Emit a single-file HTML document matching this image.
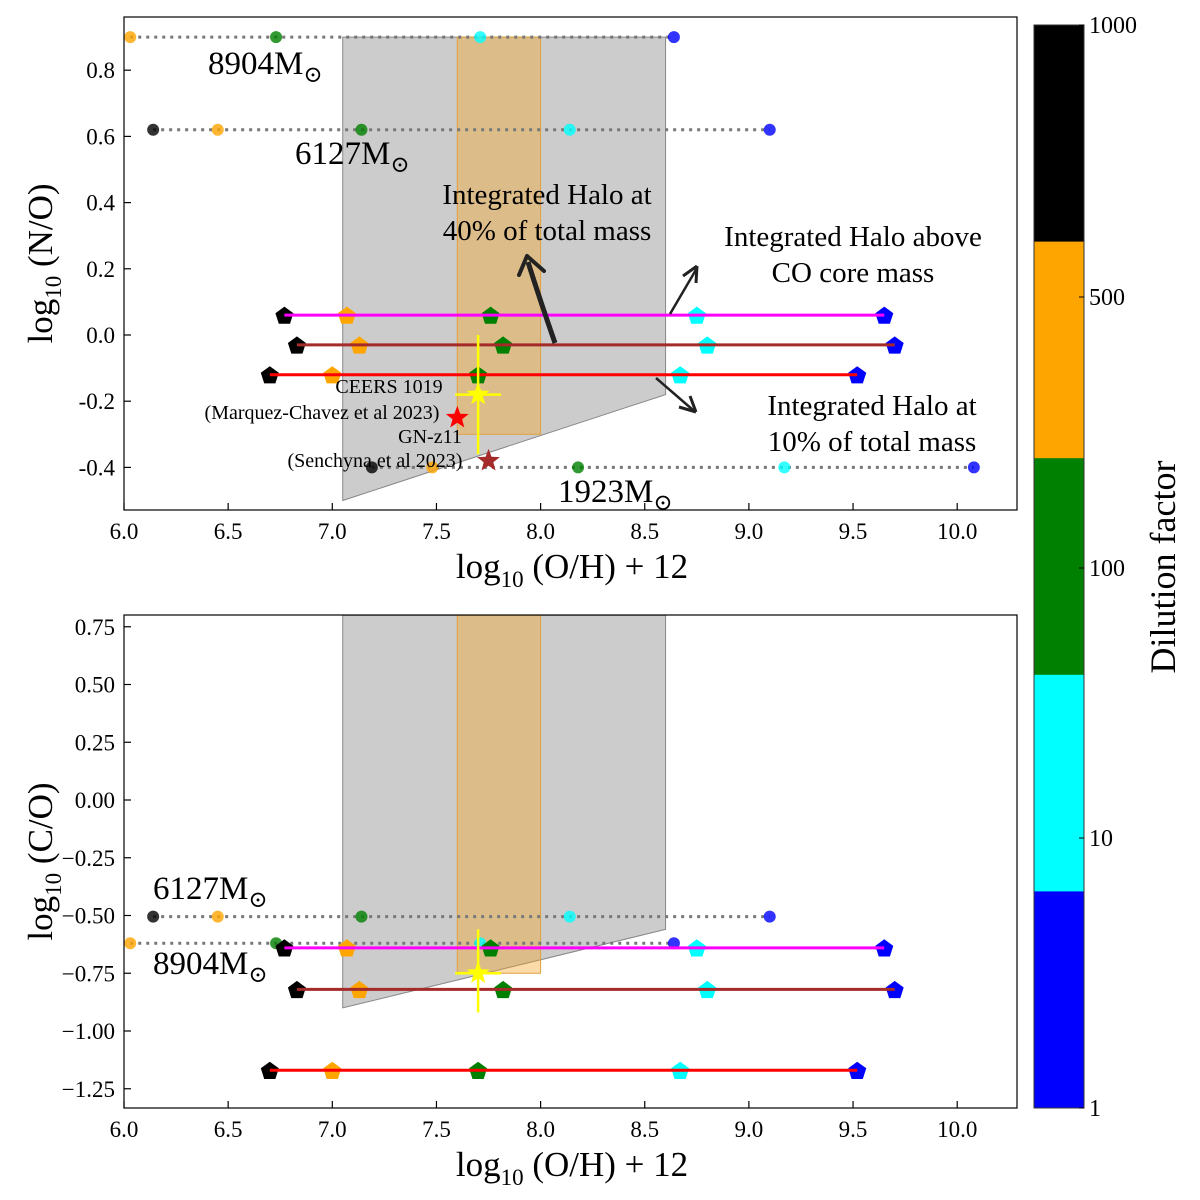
<!DOCTYPE html>
<html><head><meta charset="utf-8"><style>
html,body{margin:0;padding:0;background:#fff;}
svg{display:block;font-family:"Liberation Serif","DejaVu Serif",serif;}
</style></head><body>
<svg id="fig" width="1200" height="1200" viewBox="0 0 1200 1200" xmlns="http://www.w3.org/2000/svg"></svg>
<script>
// ---------- data ----------
const dilutionColors = ["black","orange","green","cyan","blue"];
const xTicks = [6.0,6.5,7.0,7.5,8.0,8.5,9.0,9.5,10.0];
const topYTicks = [0.8,0.6,0.4,0.2,0.0,-0.2,-0.4];
const botYTicks = [0.75,0.50,0.25,0.00,-0.25,-0.50,-0.75,-1.00,-1.25];
// circle (stellar mass) series: x per dilution [black, orange, green, cyan, blue]
const m8904X = [null,6.03,6.73,7.71,8.64];
const m6127X = [6.14,6.45,7.14,8.14,9.10];
const m1923X = [7.19,7.48,8.18,9.17,10.08];
// pentagon series x
const aboveCOX = [6.77,7.07,7.76,8.75,9.65];
const halo40X = [6.83,7.13,7.82,8.80,9.70];
const halo10X = [6.70,7.00,7.70,8.67,9.52];
// N/O values
const noM8904 = 0.90, noM6127 = 0.62, noM1923 = -0.40;
const noAboveCO = 0.06, noHalo40 = -0.03, noHalo10 = -0.12;
// C/O values
const coM6127 = -0.505, coM8904 = -0.62;
const coAboveCO = -0.64, coHalo40 = -0.82, coHalo10 = -1.17;
// observations
const ceersNO = [7.70,-0.18,0.11,0.18,0.18]; // x,y,xerr,yerrUp,yerrDown
const ceersCO = [7.70,-0.75,0.11,0.19,0.17];
const gnz11Red = [7.60,-0.25];
const gnz11Dark = [7.75,-0.38];
// shaded regions
const greyNO = [7.05,8.6,0.90,-0.50,-0.18];
const orangeNO = [7.6,8.0,0.90,-0.30];
const greyCO = [7.05,8.6,0.80,-0.90,-0.56];
const orangeCO = [7.6,8.0,0.80,-0.75];
const cbTicks = ["1000","500","100","10","1"];

// ---------- helpers ----------
const NS="http://www.w3.org/2000/svg";
const svg=document.getElementById('fig');
function mk(tag,attrs,parent){const e=document.createElementNS(NS,tag);for(const k in attrs)e.setAttribute(k,attrs[k]);(parent||svg).appendChild(e);return e;}
function txt(s,attrs,parent){const e=mk('text',attrs,parent);e.textContent=s;return e;}

const L=124,R=1017;
const xs=v=>124+(v-6)*208.3;
const P1={top:17,bot:510,y:v=>335-v*331};
const P2={top:615,bot:1108,y:v=>800-v*231};

function pentagon(cx,cy,r){let p=[];for(let i=0;i<5;i++){const a=-Math.PI/2+i*2*Math.PI/5;p.push((cx+r*Math.cos(a)).toFixed(1)+','+(cy+r*Math.sin(a)).toFixed(1));}return p.join(' ');}
function star(cx,cy,r){let p=[];for(let i=0;i<10;i++){const a=-Math.PI/2+i*Math.PI/5;const rr=i%2?r*0.42:r;p.push((cx+rr*Math.cos(a)).toFixed(1)+','+(cy+rr*Math.sin(a)).toFixed(1));}return p.join(' ');}

function panel(P,name){
  const g=mk('g',{});
  
  
  const cid='clip-'+name;
  const cp=mk('clipPath',{id:cid},g);mk('rect',{x:L,y:P.top,width:R-L,height:P.bot-P.top},cp);
  const inner=mk('g',{'clip-path':'url(#'+cid+')'},g);
  return {g,inner};
}

function shades(inner,P,grey,orange){
  const gp=mk('polygon',{points:`${xs(grey[0])},${P.y(grey[2])} ${xs(grey[1])},${P.y(grey[2])} ${xs(grey[1])},${P.y(grey[4])} ${xs(grey[0])},${P.y(grey[3])}`,fill:'#9a9a9a','fill-opacity':0.5,stroke:'#888','stroke-width':1},inner);
  
  
  const op=mk('rect',{x:xs(orange[0]),y:P.y(orange[2]),width:xs(orange[1])-xs(orange[0]),height:P.y(orange[3])-P.y(orange[2]),fill:'#f5a623','fill-opacity':0.4,stroke:'#e0a040','stroke-width':1},inner);
  
  
}

function dotted(inner,P,xsArr,yv,name){
  const vals=xsArr.filter(v=>v!==null);
  const ln=mk('line',{x1:xs(Math.min(...vals)),x2:xs(Math.max(...vals)),y1:P.y(yv),y2:P.y(yv),stroke:'#777','stroke-width':3,'stroke-dasharray':'3,5'},inner);
  
  
  xsArr.forEach((x,i)=>{if(x===null)return;
    const c=mk('circle',{cx:xs(x),cy:P.y(yv),r:6,fill:dilutionColors[i],'fill-opacity':0.8},inner);
    
    
  });
}
function pents(inner,P,xsArr,yv,color,name){
  xsArr.forEach((x,i)=>{
    const p=mk('polygon',{points:pentagon(xs(x),P.y(yv)+1,9.5),fill:dilutionColors[i]},inner);
    
    
  });
  const ln=mk('line',{x1:xs(xsArr[0]),x2:xs(xsArr[4]),y1:P.y(yv),y2:P.y(yv),stroke:color,'stroke-width':3},inner);
  
  
}
function errstar(inner,P,d,name){
  const cx=xs(d[0]),cy=P.y(d[1]);
  mk('line',{x1:xs(d[0]-d[2]),x2:xs(d[0]+d[2]),y1:cy,y2:cy,stroke:'yellow','stroke-width':2.5},inner);
  mk('line',{x1:cx,x2:cx,y1:P.y(d[1]+d[3]),y2:P.y(d[1]-d[4]),stroke:'yellow','stroke-width':2.5},inner);
  const s=mk('polygon',{points:star(cx,cy,12),fill:'yellow'},inner);
  
  
}
function axes(g,P,yTicks,yfmt,ylabel){
  mk('rect',{x:L,y:P.top,width:R-L,height:P.bot-P.top,fill:'none',stroke:'#000','stroke-width':1.2},g);
  xTicks.forEach(t=>{const x=xs(t);mk('line',{x1:x,x2:x,y1:P.bot,y2:P.bot-7,stroke:'#000','stroke-width':1.2},g);
    const tl=txt(t.toFixed(1),{x:x,y:P.bot+29,'font-size':23,'text-anchor':'middle'},g);
    
    });
  yTicks.forEach(t=>{const y=P.y(t);mk('line',{x1:L,x2:L+7,y1:y,y2:y,stroke:'#000','stroke-width':1.2},g);
    const tl=txt(yfmt(t),{x:L-9,y:y+8,'font-size':23,'text-anchor':'end'},g);
    
    });
  const xt=mk('text',{x:572,y:P.bot+68,'font-size':35,'text-anchor':'middle'},g);
  xt.innerHTML='log<tspan font-size="23" dy="9">10</tspan><tspan dy="-9"> (O/H) + 12</tspan>';
  
  
  const cy=(P.top+P.bot)/2;
  const yt=mk('text',{x:0,y:0,'font-size':35,'text-anchor':'middle',transform:`translate(52,${cy}) rotate(-90)`},g);
  yt.innerHTML='log<tspan font-size="23" dy="9">10</tspan><tspan dy="-9"> '+ylabel+'</tspan>';
  
  
}
function msun(g,label,x,y,name){
  const t=mk('text',{x:x,y:y,'font-size':33},g);
  t.innerHTML=label+'M<tspan font-size="23" dy="8">\u2299</tspan>';
  
  
}
function ftxt(g,s,x,y,size,name,anchor){
  const t=txt(s,{x:x,y:y,'font-size':size,'text-anchor':anchor||'middle'},g);
  
  
}

// ---------- top panel ----------
const A=panel(P1,'nitrogen-panel');
shades(A.inner,P1,greyNO,orangeNO);
dotted(A.inner,P1,m8904X,noM8904,'mass-8904');
dotted(A.inner,P1,m6127X,noM6127,'mass-6127');
dotted(A.inner,P1,m1923X,noM1923,'mass-1923');
pents(A.inner,P1,aboveCOX,noAboveCO,'magenta','above-co-core');
pents(A.inner,P1,halo40X,noHalo40,'#a52a2a','halo-40pct');
pents(A.inner,P1,halo10X,noHalo10,'red','halo-10pct');
errstar(A.inner,P1,ceersNO,'ceers-1019-star');
let s1=mk('polygon',{points:star(xs(gnz11Red[0]),P1.y(gnz11Red[1]),12),fill:'red'},A.inner);


let s2=mk('polygon',{points:star(xs(gnz11Dark[0]),P1.y(gnz11Dark[1]),12),fill:'#a52a2a'},A.inner);


axes(A.g,P1,topYTicks,t=>t.toFixed(1),'(N/O)');
msun(A.g,'8904',208,74,'label-8904');
msun(A.g,'6127',295,164,'label-6127');
msun(A.g,'1923',558,502,'label-1923');
ftxt(A.g,'CEERS 1019',389,393,20,'ceers-label');
ftxt(A.g,'(Marquez-Chavez et al 2023)',322,419,20,'ceers-ref');
ftxt(A.g,'GN-z11',430,443,20,'gnz11-label');
ftxt(A.g,'(Senchyna et al 2023)',375,467,20,'gnz11-ref');
ftxt(A.g,'Integrated Halo at',547,204,29,'annot-40-line1');
ftxt(A.g,'40% of total mass',547,240,29,'annot-40-line2');
ftxt(A.g,'Integrated Halo above',853,246,29,'annot-co-line1');
ftxt(A.g,'CO core mass',853,282,29,'annot-co-line2');
ftxt(A.g,'Integrated Halo at',872,415,29,'annot-10-line1');
ftxt(A.g,'10% of total mass',872,451,29,'annot-10-line2');
// arrows
mk('path',{d:'M555,343 Q540,300 528,262',stroke:'#222','stroke-width':5,fill:'none'},A.g);
mk('path',{d:'M527,256 L519,275 M527,256 L544,271',stroke:'#222','stroke-width':4,fill:'none','stroke-linecap':'round'},A.g);
mk('path',{d:'M670,314 L697,268',stroke:'#222','stroke-width':2.5,fill:'none'},A.g);
mk('path',{d:'M697,266 L683,276 M697,266 L696,283',stroke:'#222','stroke-width':3,fill:'none'},A.g);
mk('path',{d:'M656,378 L693,410',stroke:'#222','stroke-width':2.5,fill:'none'},A.g);
mk('path',{d:'M696,412 L679,407 M696,412 L690,396',stroke:'#222','stroke-width':3,fill:'none'},A.g);

// ---------- bottom panel ----------
const B=panel(P2,'carbon-panel');
shades(B.inner,P2,greyCO,orangeCO);
dotted(B.inner,P2,m6127X,coM6127,'mass-6127');
dotted(B.inner,P2,m8904X,coM8904,'mass-8904');
pents(B.inner,P2,aboveCOX,coAboveCO,'magenta','above-co-core');
pents(B.inner,P2,halo40X,coHalo40,'#a52a2a','halo-40pct');
pents(B.inner,P2,halo10X,coHalo10,'red','halo-10pct');
errstar(B.inner,P2,ceersCO,'ceers-1019-star');
axes(B.g,P2,botYTicks,t=>t.toFixed(2).replace('-','\u2212'),'(C/O)');
msun(B.g,'6127',153,899,'label-6127');
msun(B.g,'8904',153,974,'label-8904');

// ---------- colorbar ----------
const cb=mk('g',{});


const cbTop=25,cbBot=1108,segH=(cbBot-cbTop)/5;
dilutionColors.forEach((c,i)=>{mk('rect',{x:1034,y:cbTop+i*segH,width:50,height:segH+0.5,fill:c},cb);});
mk('rect',{x:1034,y:cbTop,width:50,height:cbBot-cbTop,fill:'none',stroke:'#333','stroke-width':1},cb);
const cbPos=[25,297,568,838,1108];
cbTicks.forEach((t,i)=>{mk('line',{x1:1079,x2:1084,y1:cbPos[i],y2:cbPos[i],stroke:'#000'},cb);
  const tl=txt(t,{x:1089,y:cbPos[i]+8,'font-size':24},cb);
  
  });
const cbt=txt('Dilution factor',{x:0,y:0,'font-size':36,'text-anchor':'middle',transform:'translate(1175,567) rotate(-90)'},cb);


</script>
</body></html>
